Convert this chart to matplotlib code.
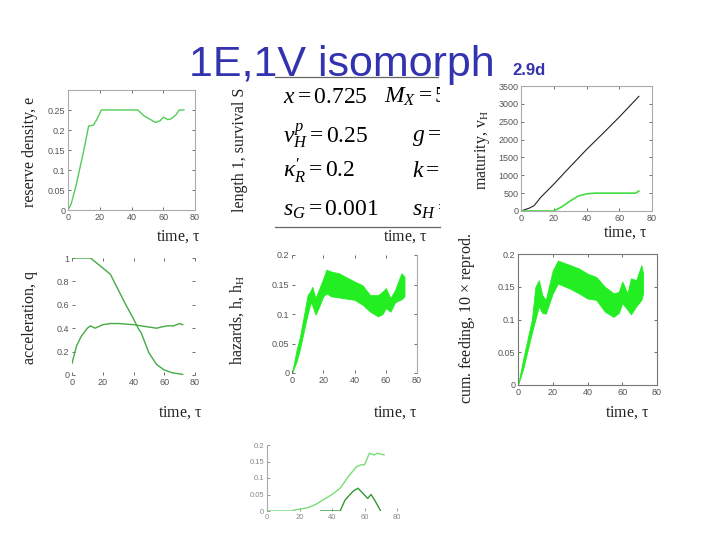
import matplotlib
matplotlib.use('Agg')
import matplotlib.pyplot as plt
from matplotlib.lines import Line2D

plt.rcParams['mathtext.fontset'] = 'custom'
plt.rcParams['mathtext.rm'] = 'Liberation Serif'
plt.rcParams['mathtext.it'] = 'Liberation Serif:italic'

W, H = 720, 540

# reserve density, e
t_e = [0, 2, 5, 10, 13, 16, 18, 21, 44, 48, 55, 58, 60, 63, 65, 68, 70, 73]
e_val = [0, 0.015, 0.06, 0.15, 0.21, 0.212, 0.225, 0.25, 0.25, 0.235, 0.219,
         0.223, 0.232, 0.226, 0.228, 0.238, 0.25, 0.25]

# maturity, v_H
t_vh1 = [0, 5, 8, 12, 20, 30, 40, 50, 60, 72]
vh1 = [0, 80, 150, 380, 750, 1240, 1720, 2170, 2630, 3210]
t_vh2 = [0, 20, 25, 30, 35, 40, 45, 70, 72]
vh2 = [0, 0, 120, 280, 420, 480, 500, 500, 560]

# acceleration, q
t_q1 = [0, 12, 20, 25, 30, 35, 40, 43, 45, 50, 55, 60, 65, 72]
q1 = [1, 1, 0.915, 0.86, 0.73, 0.6, 0.48, 0.4, 0.36, 0.19, 0.09, 0.043, 0.02, 0.005]
t_q2 = [0, 3, 6, 10, 12, 15, 20, 25, 30, 40, 45, 50, 55, 58, 62, 66, 70, 72]
q2 = [0.1, 0.25, 0.33, 0.4, 0.42, 0.4, 0.43, 0.44, 0.44, 0.43, 0.42, 0.41, 0.40,
      0.41, 0.42, 0.42, 0.44, 0.43]

# hazards band
t_h = [0, 3, 5, 10, 12, 13, 15, 17, 20, 22, 25, 30, 40, 45, 50, 55, 58, 60, 63, 66, 70, 72]
h_hi = [0, 0.04, 0.06, 0.132, 0.14, 0.146, 0.127, 0.14, 0.16, 0.175, 0.172, 0.169,
        0.155, 0.149, 0.132, 0.132, 0.138, 0.144, 0.127, 0.141, 0.169, 0.163]
h_lo = [0, 0.02, 0.04, 0.1, 0.12, 0.115, 0.099, 0.11, 0.13, 0.135, 0.13, 0.128,
        0.124, 0.116, 0.104, 0.096, 0.1, 0.11, 0.104, 0.12, 0.125, 0.13]

# cum. feeding band
t_f = [0, 3, 8, 10, 12, 14, 16, 20, 23, 30, 35, 40, 45, 50, 55, 58, 60, 63, 65, 68, 71, 72]
f_hi = [0, 0.04, 0.1, 0.15, 0.16, 0.137, 0.13, 0.175, 0.19, 0.183, 0.178, 0.17,
        0.165, 0.15, 0.14, 0.142, 0.158, 0.14, 0.163, 0.16, 0.183, 0.17]
f_lo = [0, 0.025, 0.08, 0.1, 0.12, 0.11, 0.109, 0.14, 0.155, 0.147, 0.14, 0.132,
        0.13, 0.112, 0.104, 0.11, 0.125, 0.115, 0.108, 0.12, 0.13, 0.14]

# bottom panel
t_b1 = [0, 10, 15, 17, 25, 30, 35, 40, 45, 50, 55, 58, 60, 63, 66, 68, 72]
b1 = [0, 0, 0, 0.003, 0.01, 0.02, 0.035, 0.05, 0.069, 0.104, 0.134, 0.14, 0.14,
      0.175, 0.17, 0.175, 0.17]
t_b2 = [33, 45, 48, 53, 56, 62, 64, 66, 70]
b2 = [0, 0, 0.033, 0.06, 0.069, 0.038, 0.05, 0.035, 0]

fig = plt.figure(figsize=(7.2, 5.4), dpi=100)


def add_ax(x0, y0, x1, y1):
    return fig.add_axes([x0 / W, 1 - y1 / H, (x1 - x0) / W, (y1 - y0) / H])


def style(ax, ylim, yticks, yfmt, spines=('left', 'right', 'top', 'bottom')):
    ax.set_xlim(0, 80)
    ax.set_ylim(*ylim)
    ax.set_xticks([0, 20, 40, 60, 80])
    ax.set_yticks(yticks)
    ax.set_yticklabels(yfmt)
    ax.tick_params(direction='in', length=2.5, width=0.6, labelsize=6.5,
                   colors='#555555', pad=2, top=True, right=True)
    for s in ax.spines:
        ax.spines[s].set_color('#aaaaaa')
        ax.spines[s].set_linewidth(0.8)
        ax.spines[s].set_visible(s in spines)
    for lab in ax.get_xticklabels() + ax.get_yticklabels():
        lab.set_family('Liberation Sans')


label_kw = dict(family='Liberation Serif', fontsize=11.5, color='#222222',
                ha='center', va='center')

# panel 1
ax1 = add_ax(68, 90, 195, 210)
ax1.plot(t_e, e_val, color='#55cc55', lw=1)
style(ax1, (0, 0.3), [0, 0.05, 0.1, 0.15, 0.2, 0.25],
      ['0', '0.05', '0.1', '0.15', '0.2', '0.25'])
fig.text(30 / W, 1 - 152 / H, 'reserve density, e', rotation=90, **label_kw)
fig.text(178 / W, 1 - 237 / H, r'time, $\mathrm{\tau}$', **label_kw)

# text panel
axt = add_ax(275, 78, 440, 227)
axt.set_xlim(0, 1)
axt.set_ylim(0, 1)
axt.axis('off')
rows = [(0.88, r'$x = 0.725$', r'$M_X = 5$'),
        (0.61, r'$v^p_H = 0.25$', r'$g = $'),
        (0.38, r'$\kappa^\prime_R = 0.2$', r'$k = $'),
        (0.12, r'$s_G = 0.001$', r'$s_H = $')]
for y, left, right in rows:
    axt.text(0.05, y, left, fontsize=17, va='center', ha='left', clip_on=True)
    axt.text(0.66 if right.startswith('$M') else 0.83, y, right, fontsize=17,
             va='center', ha='left', clip_on=True)
fig.add_artist(Line2D([275 / W, 440 / W], [1 - 227 / H, 1 - 227 / H],
                      color='#666666', lw=0.9))
fig.add_artist(Line2D([275 / W, 438 / W], [1 - 77 / H, 1 - 77 / H],
                      color='#666666', lw=0.9))
fig.text(240 / W, 1 - 150 / H, 'length 1, survival S', rotation=90, **label_kw)
fig.text(405 / W, 1 - 237 / H, r'time, $\mathrm{\tau}$', **label_kw)

# panel 3
ax3 = add_ax(521, 86, 652, 211)
ax3.plot(t_vh1, vh1, color='#222222', lw=0.8)
ax3.plot(t_vh2, vh2, color='#44dd44', lw=1.2)
style(ax3, (0, 3500), [0, 500, 1000, 1500, 2000, 2500, 3000, 3500],
      ['0', '500', '1000', '1500', '2000', '2500', '3000', '3500'])
fig.text(483 / W, 1 - 150 / H, r'maturity, v$_\mathrm{H}$', rotation=90, **label_kw)
fig.text(625 / W, 1 - 233 / H, r'time, $\mathrm{\tau}$', **label_kw)

# title
fig.text(342 / W, 1 - 76 / H, '1E,1V isomorph', family='Liberation Sans',
         fontsize=31, color='#3333b0', ha='center', va='baseline')
fig.text(512 / W, 1 - 75 / H, '2.9d', family='Liberation Sans', fontsize=12,
         color='#3333b0', ha='left', va='baseline', weight='bold')

# panel 4
ax4 = add_ax(72, 258, 195, 375)
ax4.plot(t_q1, q1, color='#44aa44', lw=1)
ax4.plot(t_q2, q2, color='#44aa44', lw=1)
style(ax4, (0, 1), [0, 0.2, 0.4, 0.6, 0.8, 1], ['0', '0.2', '0.4', '0.6', '0.8', '1'],
      spines=())
fig.text(30 / W, 1 - 318 / H, 'acceleration, q', rotation=90, **label_kw)
fig.text(180 / W, 1 - 413 / H, r'time, $\mathrm{\tau}$', **label_kw)

# panel 5
ax5 = add_ax(292, 255, 417, 373)
ax5.fill_between(t_h, h_lo, h_hi, color='#22ee22', lw=0.6, edgecolor='#22ee22')
style(ax5, (0, 0.2), [0, 0.05, 0.1, 0.15, 0.2], ['0', '0.05', '0.1', '0.15', '0.2'],
      spines=('right',))
fig.text(237 / W, 1 - 320 / H, r'hazards, h, h$_\mathrm{H}$', rotation=90, **label_kw)
fig.text(395 / W, 1 - 413 / H, r'time, $\mathrm{\tau}$', **label_kw)

# panel 6
ax6 = add_ax(518, 254, 657, 385)
ax6.fill_between(t_f, f_lo, f_hi, color='#22ee22', lw=0.6, edgecolor='#22ee22')
style(ax6, (0, 0.2), [0, 0.05, 0.1, 0.15, 0.2], ['0', '0.05', '0.1', '0.15', '0.2'])
for s in ax6.spines.values():
    s.set_color('#777777')
fig.text(467 / W, 1 - 318 / H, r'cum. feeding, 10 $\times$ reprod.', rotation=90,
         **label_kw)
fig.text(627 / W, 1 - 413 / H, r'time, $\mathrm{\tau}$', **label_kw)

# panel 7
ax7 = add_ax(267, 445, 397, 511)
ax7.plot(t_b1, b1, color='#77dd77', lw=1)
ax7.plot(t_b2, b2, color='#339933', lw=1)
style(ax7, (0, 0.2), [0, 0.05, 0.1, 0.15, 0.2], ['0', '0.05', '0.1', '0.15', '0.2'],
      spines=('left',))
ax7.tick_params(labelsize=5.5, colors='#888888', top=False, right=False)

fig.savefig('out.png', dpi=100)
